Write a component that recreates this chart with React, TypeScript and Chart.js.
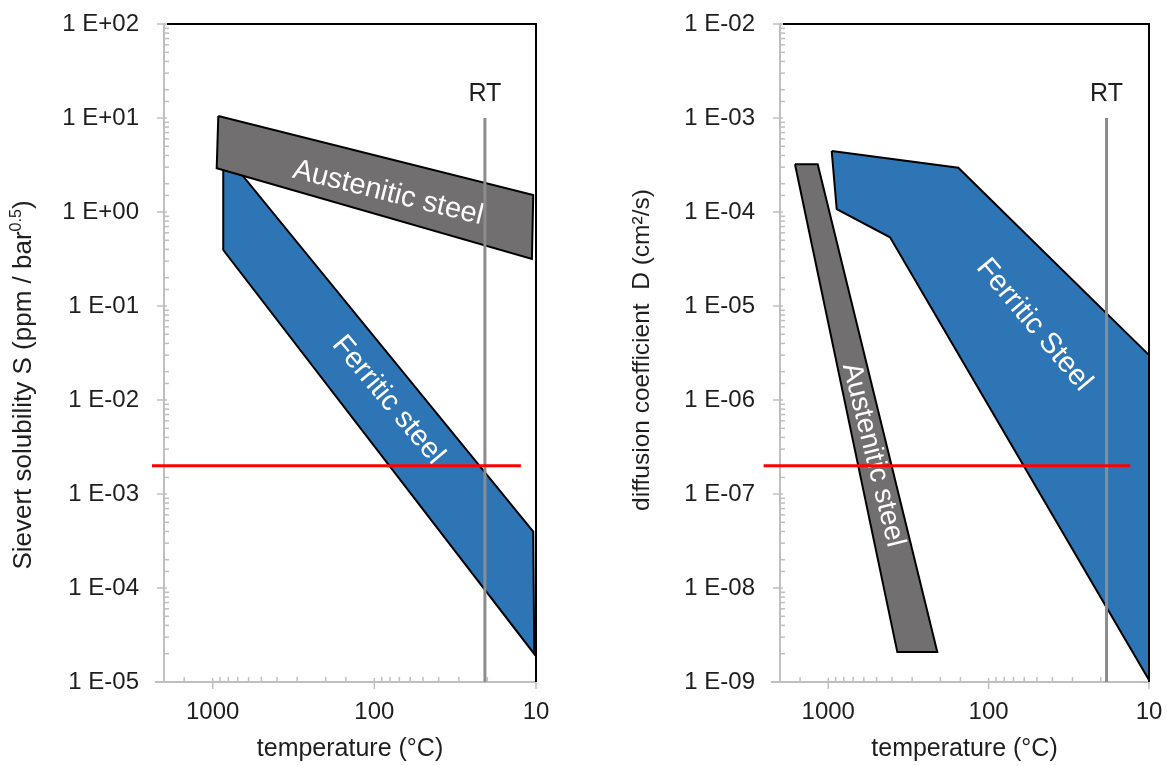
import React, { useEffect, useRef } from 'react';
import { Chart, registerables } from 'chart.js';

Chart.register(...registerables);

// ---------- shared temperature axis (°C, logarithmic, reversed) ----------
const tempMin = 10;
const tempMax = 2000;
const tempTickLabels = [1000, 100, 10];

// ---------- left panel: Sievert solubility S (ppm / bar^0.5) ----------
const solYMin = 1e-5;
const solYMax = 1e2;
const solTickLabels = [1e2, 1e1, 1e0, 1e-1, 1e-2, 1e-3, 1e-4, 1e-5];
const solAusteniticT = [923, 944, 10.6, 10.4, 923];
const solAusteniticS = [10.5, 2.92, 0.316, 1.52, 10.5];
const solFerriticT = [860, 697, 10.4, 10.25, 860, 860];
const solFerriticS = [2.8, 2.8, 3.97e-4, 1.99e-5, 0.394, 2.8];
const solLimitT = [2372, 12.4];
const solLimitS = [2e-3, 2e-3];
const solRoomT = [20.7, 20.7];
const solRoomS = [10, 1e-5];

// ---------- right panel: diffusion coefficient D (cm²/s) ----------
const difYMin = 1e-9;
const difYMax = 1e-2;
const difTickLabels = [1e-2, 1e-3, 1e-4, 1e-5, 1e-6, 1e-7, 1e-8, 1e-9];
const difAusteniticT = [1613, 1164, 209, 371, 1613];
const difAusteniticD = [3.22e-4, 3.22e-4, 2.08e-9, 2.08e-9, 3.22e-4];
const difFerriticT = [952, 154.6, 10, 10, 412, 886, 952];
const difFerriticD = [4.46e-4, 2.96e-4, 3.0e-6, 1.05e-9, 5.38e-5, 1.07e-4, 4.46e-4];
const difLimitT = [2531, 13.1];
const difLimitD = [2e-7, 2e-7];
const difRoomT = [18.4, 18.4];
const difRoomD = [1e-3, 1e-9];

// ---------- styling ----------
const FONT = '"Liberation Sans", Arial, Helvetica, sans-serif';
const TEXT = '#1e1e1e';
const AXIS = '#bfbfbf';
const GREY = '#716f6f';
const BLUE = '#2e75b6';
const RT_GREY = '#8c8c8c';
const RED = '#ff0000';

type Part = { text: string; sup?: boolean };
type BandLabel = { band: string; text: string; T: number; v: number; angle: number; size: number };
type Panel = {
  canvasLeft: number;
  canvasWidth: number;
  yAxisWidth: number;
  padRight: number;
  yMin: number;
  yMax: number;
  yTicks: number[];
  aust: [number[], number[]];
  ferr: [number[], number[]];
  limit: [number[], number[]];
  room: [number[], number[]];
  yTitle: Part[];
  yTitleSize: number;
  yTitleX: number;
  yTitleY: number;
  bandLabels: BandLabel[];
};

const panels: Panel[] = [
  {
    canvasLeft: 0,
    canvasWidth: 580,
    yAxisWidth: 164,
    padRight: 44,
    yMin: solYMin,
    yMax: solYMax,
    yTicks: solTickLabels,
    aust: [solAusteniticT, solAusteniticS],
    ferr: [solFerriticT, solFerriticS],
    limit: [solLimitT, solLimitS],
    room: [solRoomT, solRoomS],
    yTitle: [{ text: 'Sievert solubility S (ppm / bar' }, { text: '0.5', sup: true }, { text: ')' }],
    yTitleSize: 26,
    yTitleX: 22,
    yTitleY: 385,
    bandLabels: [
      { band: 'aust', text: 'Austenitic steel', T: 82.3, v: 1.59, angle: 14, size: 29 },
      { band: 'ferr', text: 'Ferritic steel', T: 82.3, v: 1e-2, angle: 50, size: 29 },
    ],
  },
  {
    canvasLeft: 580,
    canvasWidth: 587,
    yAxisWidth: 200,
    padRight: 18,
    yMin: difYMin,
    yMax: difYMax,
    yTicks: difTickLabels,
    aust: [difAusteniticT, difAusteniticD],
    ferr: [difFerriticT, difFerriticD],
    limit: [difLimitT, difLimitD],
    room: [difRoomT, difRoomD],
    yTitle: [{ text: 'diffusion coefficient  D (cm²/s)' }],
    yTitleSize: 24.5,
    yTitleX: 60,
    yTitleY: 350,
    bandLabels: [
      { band: 'aust', text: 'Austenitic steel', T: 526, v: 2.6e-7, angle: 76, size: 28 },
      { band: 'ferr', text: 'Ferritic Steel', T: 52.2, v: 6.28e-6, angle: 50, size: 29 },
    ],
  },
];

const sameLog = (a: number, b: number) => Math.abs(Math.log10(a) - Math.log10(b)) < 1e-6;
const isDecade = (v: number) => {
  const l = Math.log10(v);
  return Math.abs(l - Math.round(l)) < 1e-6;
};
const sciLabel = (v: number) => {
  const e = Math.round(Math.log10(v));
  return '1 E' + (e < 0 ? '-' : '+') + String(Math.abs(e)).padStart(2, '0');
};
const pts = (xs: number[], ys: number[]) => xs.map((x, i) => ({ x, y: ys[i] }));

function buildChart(canvas: HTMLCanvasElement, p: Panel) {
  const decor = {
    id: 'decor',
    beforeDatasetsDraw(chart: any) {
      const { ctx, chartArea: a, scales } = chart;
      const xs = scales.x;
      const ys = scales.y;
      ctx.save();
      // axis lines
      ctx.strokeStyle = AXIS;
      ctx.lineWidth = 2;
      ctx.beginPath();
      ctx.moveTo(a.left, a.top - 1);
      ctx.lineTo(a.left, a.bottom);
      ctx.stroke();
      ctx.beginPath();
      ctx.moveTo(a.left - 9, a.bottom);
      ctx.lineTo(a.right, a.bottom);
      ctx.stroke();
      // tick marks
      ctx.lineWidth = 1.5;
      ys.ticks.forEach((t: any) => {
        const py = ys.getPixelForValue(t.value);
        ctx.beginPath();
        if (isDecade(t.value)) {
          ctx.moveTo(a.left - 7, py);
          ctx.lineTo(a.left + 3, py);
        } else {
          ctx.moveTo(a.left, py);
          ctx.lineTo(a.left + 5, py);
        }
        ctx.stroke();
      });
      xs.ticks.forEach((t: any) => {
        if (t.value > tempMax * 0.999) return;
        const px = xs.getPixelForValue(t.value);
        ctx.beginPath();
        if (isDecade(t.value)) {
          ctx.moveTo(px, a.bottom - 4);
          ctx.lineTo(px, a.bottom + 7);
        } else {
          ctx.moveTo(px, a.bottom - 5);
          ctx.lineTo(px, a.bottom);
        }
        ctx.stroke();
      });
      // black frame top / right
      ctx.strokeStyle = '#000';
      ctx.lineWidth = 2;
      ctx.beginPath();
      ctx.moveTo(a.left + 3, a.top);
      ctx.lineTo(a.right, a.top);
      ctx.lineTo(a.right, a.bottom);
      ctx.stroke();
      // x title
      ctx.fillStyle = TEXT;
      ctx.font = `25px ${FONT}`;
      ctx.textAlign = 'center';
      ctx.textBaseline = 'middle';
      ctx.fillText('temperature (°C)', (a.left + a.right) / 2, a.bottom + 67);
      // y title (rotated, with superscript parts)
      const size = p.yTitleSize;
      const supSize = size * 0.62;
      ctx.translate(p.yTitleX, p.yTitleY);
      ctx.rotate(-Math.PI / 2);
      const widths = p.yTitle.map((part) => {
        ctx.font = `${part.sup ? supSize : size}px ${FONT}`;
        return ctx.measureText(part.text).width;
      });
      const total = widths.reduce((s, w) => s + w, 0);
      let cx = -total / 2;
      ctx.textAlign = 'left';
      ctx.textBaseline = 'alphabetic';
      p.yTitle.forEach((part, i) => {
        ctx.font = `${part.sup ? supSize : size}px ${FONT}`;
        ctx.fillText(part.text, cx, size * 0.36 + (part.sup ? -size * 0.4 : 0));
        cx += widths[i];
      });
      ctx.restore();
    },
    afterDatasetDraw(chart: any, args: any) {
      const ds = chart.data.datasets[args.index];
      const { ctx, scales } = chart;
      if (ds.label === 'RT') {
        const px = scales.x.getPixelForValue(p.room[0][0]);
        const py = scales.y.getPixelForValue(p.room[1][0]);
        ctx.save();
        ctx.fillStyle = TEXT;
        ctx.font = `25px ${FONT}`;
        ctx.textAlign = 'center';
        ctx.textBaseline = 'middle';
        ctx.fillText('RT', px, py - 24);
        ctx.restore();
      }
      p.bandLabels
        .filter((b) => b.band === ds.label)
        .forEach((b) => {
          const px = scales.x.getPixelForValue(b.T);
          const py = scales.y.getPixelForValue(b.v);
          ctx.save();
          ctx.translate(px, py);
          ctx.rotate((b.angle * Math.PI) / 180);
          ctx.fillStyle = '#ffffff';
          ctx.font = `${b.size}px ${FONT}`;
          ctx.textAlign = 'center';
          ctx.textBaseline = 'middle';
          ctx.fillText(b.text, 0, 0);
          ctx.restore();
        });
    },
  };

  return new Chart(canvas, {
    type: 'line',
    data: {
      datasets: [
        {
          label: 'limit',
          data: pts(p.limit[0], p.limit[1]),
          borderColor: RED,
          borderWidth: 3,
          pointRadius: 0,
          fill: false,
          clip: false,
          tension: 0,
        },
        {
          label: 'RT',
          data: pts(p.room[0], p.room[1]),
          borderColor: RT_GREY,
          borderWidth: 3,
          pointRadius: 0,
          fill: false,
          tension: 0,
        },
        {
          label: 'aust',
          data: pts(p.aust[0], p.aust[1]),
          borderColor: '#000',
          borderWidth: 2,
          backgroundColor: GREY,
          fill: 'shape',
          pointRadius: 0,
          tension: 0,
        },
        {
          label: 'ferr',
          data: pts(p.ferr[0], p.ferr[1]),
          borderColor: '#000',
          borderWidth: 2,
          backgroundColor: BLUE,
          fill: 'shape',
          pointRadius: 0,
          tension: 0,
        },
      ],
    } as any,
    options: {
      responsive: false,
      animation: false,
      devicePixelRatio: 1,
      events: [],
      layout: { padding: { left: 0, top: 24, right: p.padRight, bottom: 0 } },
      plugins: { legend: { display: false }, tooltip: { enabled: false } },
      scales: {
        x: {
          type: 'logarithmic',
          min: tempMin,
          max: tempMax,
          reverse: true,
          position: 'bottom',
          grid: { display: false, drawTicks: true, tickLength: 16 },
          border: { display: false },
          ticks: {
            autoSkip: false,
            maxRotation: 0,
            minRotation: 0,
            padding: 0,
            color: TEXT,
            font: { family: FONT, size: 24 },
            callback: (v: any) => (tempTickLabels.some((t) => sameLog(t, Number(v))) ? String(Math.round(Number(v))) : ''),
          },
          afterFit: (s: any) => {
            s.height = 84;
          },
        },
        y: {
          type: 'logarithmic',
          min: p.yMin,
          max: p.yMax,
          grid: { display: false, drawTicks: true, tickLength: 25 },
          border: { display: false },
          ticks: {
            autoSkip: false,
            padding: 0,
            color: TEXT,
            font: { family: FONT, size: 24 },
            callback: (v: any) => (p.yTicks.some((t) => sameLog(t, Number(v))) ? sciLabel(Number(v)) : ''),
          },
          afterFit: (s: any) => {
            s.width = p.yAxisWidth;
          },
        },
      },
    } as any,
    plugins: [decor],
  });
}

function PanelChart({ panel }: { panel: Panel }) {
  const ref = useRef<HTMLCanvasElement>(null);
  useEffect(() => {
    const chart = buildChart(ref.current as HTMLCanvasElement, panel);
    return () => chart.destroy();
  }, [panel]);
  return (
    <canvas
      ref={ref}
      width={panel.canvasWidth}
      height={766}
      style={{ position: 'absolute', left: panel.canvasLeft, top: 0, width: panel.canvasWidth, height: 766, display: 'block' }}
    />
  );
}

export default function App() {
  return (
    <div style={{ position: 'absolute', left: 0, top: 0, width: 1167, height: 766, background: '#ffffff', overflow: 'hidden' }}>
      {panels.map((p, i) => (
        <PanelChart key={i} panel={p} />
      ))}
    </div>
  );
}
